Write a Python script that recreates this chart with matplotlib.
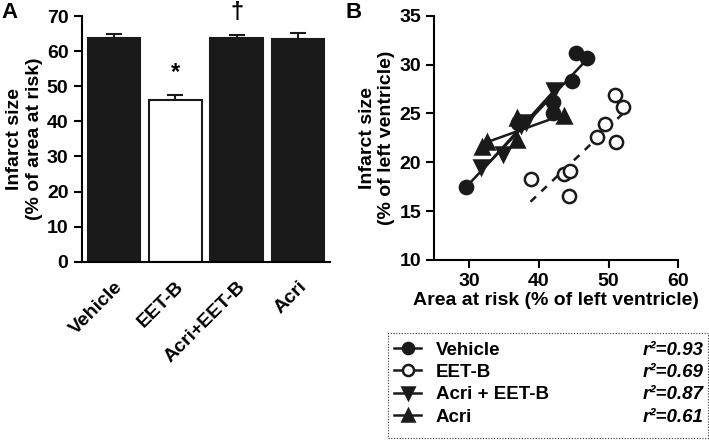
import numpy as np
import matplotlib
matplotlib.use('Agg')
import matplotlib.pyplot as plt
from matplotlib.lines import Line2D
from matplotlib.patches import Rectangle

plt.rcParams['font.family'] = ['Liberation Sans', 'DejaVu Sans']
plt.rcParams['font.weight'] = 'bold'
plt.rcParams['axes.labelweight'] = 'bold'

# panel A
groups = ['Vehicle', 'EET-B', 'Acri+EET-B', 'Acri']
infarct = [63.7, 46.0, 63.6, 63.4]
infarct_sem = [1.1, 1.5, 1.1, 1.8]
bar_colors = ['#1a1a1a', 'white', '#1a1a1a', '#1a1a1a']
marks = ['', '*', '\u2020', '']

# panel B
veh_x = [29.5, 37.0, 42.0, 42.0, 44.7, 45.3, 46.9]
veh_y = [17.5, 24.0, 25.0, 26.2, 28.3, 31.2, 30.7]
eet_x = [38.8, 43.6, 44.5, 44.3, 48.3, 49.5, 51.0, 50.9, 52.1]
eet_y = [18.3, 18.8, 19.1, 16.5, 22.6, 23.9, 22.1, 26.9, 25.7]
acee_x = [31.7, 34.8, 38.1, 42.1, 37.5]
acee_y = [19.5, 20.8, 24.1, 27.4, 23.8]
acri_x = [31.9, 32.6, 36.9, 36.9, 43.6]
acri_y = [21.6, 22.1, 22.3, 24.5, 24.7]
legend_labels = ['Vehicle', 'EET-B', 'Acri + EET-B', 'Acri']
r2_labels = ['0.93', '0.69', '0.87', '0.61']

fig = plt.figure(figsize=(7.09, 4.42), dpi=100)

# ---- A ----
ax = fig.add_axes([0.1152, 0.4079, 0.3502, 0.5559])
pos = np.arange(len(groups))
ax.bar(pos, infarct, width=0.86, color=bar_colors, edgecolor='#1a1a1a', linewidth=1.5, zorder=2)
ax.errorbar(pos, infarct, yerr=[np.zeros(len(infarct)), infarct_sem], fmt='none',
            ecolor='#1a1a1a', elinewidth=1.5, capsize=5.5, capthick=1.5, zorder=1)
for p, v, e, m in zip(pos, infarct, infarct_sem, marks):
    if m:
        ax.text(p, v + e + 3, m, ha='center', va='bottom', fontsize=17, fontweight='bold')
ax.set_xlim(-0.525, 3.52)
ax.set_ylim(0, 70)
ax.set_yticks(range(0, 71, 10))
ax.set_xticks(pos)
ax.set_xticklabels(groups, rotation=45, ha='right', rotation_mode='anchor')
ax.tick_params(axis='x', length=0, pad=12)
ax.tick_params(axis='y', length=6, width=1.5, direction='out')
ax.tick_params(labelsize=14)
ax.set_ylabel('Infarct size\n(% of area at risk)', fontsize=14, labelpad=3)
for s in ['top', 'right']:
    ax.spines[s].set_visible(False)
for s in ['left', 'bottom']:
    ax.spines[s].set_linewidth(1.5)
fig.text(0.002, 0.995, 'A', fontsize=16, fontweight='bold', va='top')

# ---- B ----
bx = fig.add_axes([0.6126, 0.4118, 0.3441, 0.5527])
series = [
    (veh_x, veh_y, 'o', '#1a1a1a', '-'),
    (eet_x, eet_y, 'o', 'white', (0, (3, 3))),
    (acee_x, acee_y, 'v', '#1a1a1a', '-'),
    (acri_x, acri_y, '^', '#1a1a1a', '-'),
]
for xs, ys, mk, fc, ls in series:
    xs = np.array(xs)
    ys = np.array(ys)
    k, b = np.polyfit(xs, ys, 1)
    xl = np.array([xs.min(), xs.max()])
    bx.plot(xl, k * xl + b, color='#1a1a1a', lw=1.8, ls=ls, zorder=2)
    bx.plot(xs, ys, ls='none', marker=mk, ms=9.5, mfc=fc, mec='#1a1a1a', mew=1.8, zorder=3)
bx.set_xlim(25, 60)
bx.set_ylim(10, 35)
bx.set_xticks([30, 40, 50, 60])
bx.set_yticks(range(10, 36, 5))
bx.tick_params(length=6, width=1.5, labelsize=14)
bx.set_xlabel('Area at risk (% of left ventricle)', fontsize=14, labelpad=1)
bx.set_ylabel('Infarct size\n(% of left ventricle)', fontsize=14, labelpad=3)
for s in ['top', 'right']:
    bx.spines[s].set_visible(False)
for s in ['left', 'bottom']:
    bx.spines[s].set_linewidth(1.5)
fig.text(0.487, 0.995, 'B', fontsize=16, fontweight='bold', va='top')

# ---- legend box ----
lx = fig.add_axes([388 / 709, 1 - 438 / 442, 320 / 709, 105 / 442])
lx.axis('off')
lx.add_patch(Rectangle((0, 0), 1, 1, transform=lx.transAxes, fill=False,
                       ls=(0, (1, 1.5)), lw=0.8, ec='#333333', clip_on=False))
handles = [Line2D([], [], color='#1a1a1a', lw=1.8, marker=mk, ms=8, mfc=fc,
                  mec='#1a1a1a', mew=1.8) for _, _, mk, fc, _ in series]
leg = lx.legend(handles, legend_labels, loc='upper left', bbox_to_anchor=(0.02, 0.92),
                frameon=False, fontsize=13.5, handlelength=1.4, handletextpad=0.8,
                labelspacing=0.28, borderaxespad=0, borderpad=0)
fig.canvas.draw()
inv = lx.transAxes.inverted()
for t, r in zip(leg.get_texts(), r2_labels):
    bb = t.get_window_extent()
    yc = inv.transform((0, (bb.y0 + bb.y1) / 2))[1]
    lx.text(0.985, yc, 'r\u00b2=' + r, transform=lx.transAxes,
            ha='right', va='center', fontsize=13.5, fontweight='bold', style='italic')

fig.savefig('out.png', dpi=100)
